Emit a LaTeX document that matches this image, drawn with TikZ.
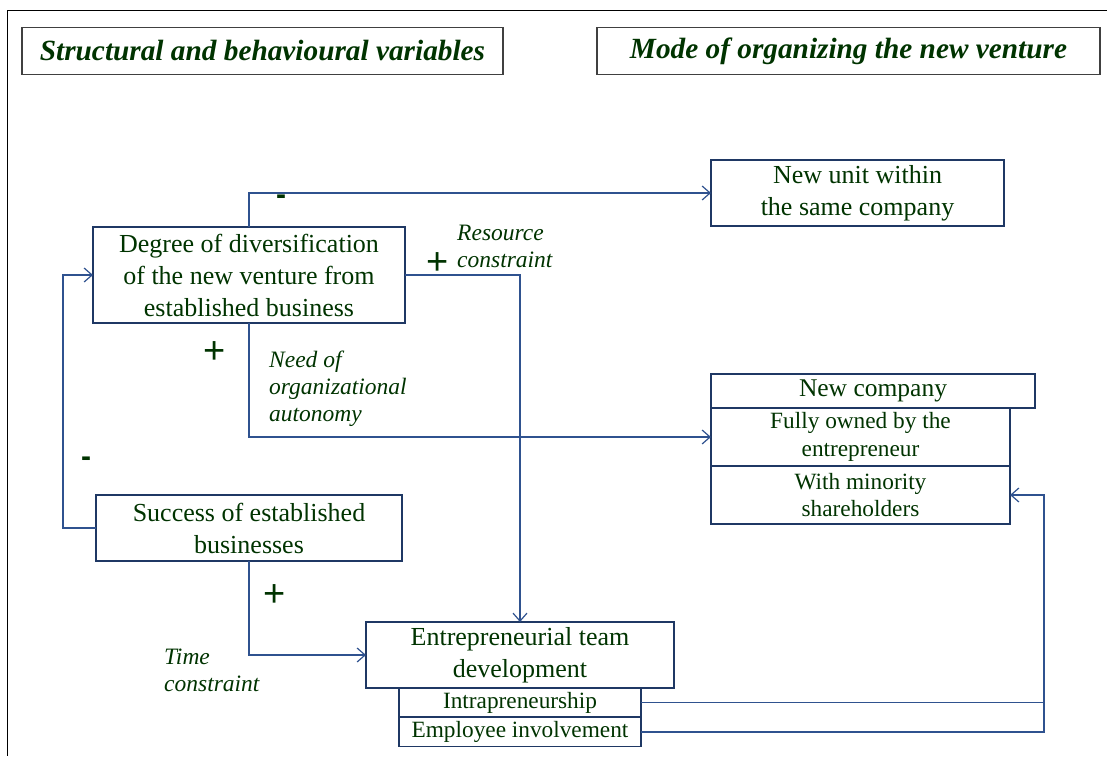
\documentclass[tikz,border=0pt]{standalone}
\usepackage{fontspec}
\setmainfont{Liberation Serif}
\setsansfont{Liberation Sans}
\usetikzlibrary{arrows.meta}
\definecolor{txtgreen}{RGB}{0,51,0}
\definecolor{boxblue}{RGB}{31,56,100}
\definecolor{lineblue}{RGB}{47,82,143}

\begin{document}
\begin{tikzpicture}[x=1pt, y=-1pt, node distance=58pt,
	box/.style={draw=boxblue, line width=1.2pt, inner sep=0pt, outer sep=0pt, align=center, text=txtgreen, font=\fontsize{26}{32}\selectfont},
	sub/.style={box, font=\fontsize{23.3}{27.5}\selectfont},
	heading/.style={draw=black!75, line width=1.2pt, inner sep=0pt, text=txtgreen, minimum height=47pt, font=\fontsize{29.3}{34}\selectfont\bfseries\itshape},
	note/.style={text=txtgreen, align=left, inner sep=0pt, anchor=west, font=\fontsize{23.5}{27}\selectfont\itshape},
	sign/.style={text=txtgreen, inner sep=0pt, font=\fontsize{38}{38}\selectfont\sffamily},
	neg/.style={sign, font=\fontsize{30}{30}\selectfont\sffamily\bfseries},
	link/.style={draw=lineblue, line width=1.2pt, -{Straight Barb[length=8pt,width=14pt]}}]
	\useasboundingbox (0,0) rectangle (1107,756);
	\draw[line width=0.8pt] (1107,10) -- (7,10) -- (7,756);
	\node (vars) [heading, minimum width=481pt] at (262.5,51) {Structural and behavioural variables};
	\node (mode) [heading, minimum width=503pt] at (848.5,51) {Mode of organizing the new venture};
	\node (unit) [box, minimum width=293pt, minimum height=66pt] at (857.5,193) {New unit within\\the same company};
	\node (div) [box, minimum width=312pt, minimum height=96pt] at (249,275) {Degree of diversification\\of the new venture from\\established business};
	\node (succ) [box, minimum width=306pt, minimum height=66pt] at (249,528) {Success of established\\businesses};
	\node (team) [box, minimum width=308pt, minimum height=66pt] at (520,655) {Entrepreneurial team\\development};
	\node (intra) [sub, minimum width=242pt, minimum height=29pt, node distance=47.5pt, below of=team] {Intrapreneurship};
	\node (empl) [sub, minimum width=242pt, minimum height=29.5pt, node distance=29.5pt, below of=intra] {Employee involvement};
	\node (owned) [sub, minimum width=299pt, minimum height=58pt] at (860.5,437) {Fully owned by the\\entrepreneur};
	\node (minor) [sub, minimum width=299pt, minimum height=58pt, below of=owned] {With minority\\shareholders};
	\node (newco) [box, minimum width=324pt, minimum height=34pt, anchor=south west, font=\fontsize{25.5}{28}\selectfont] at (owned.north west) {New company};
	\node (res) [note] at (457,246) {Resource\\constraint};
	\node (plus1) [sign] at (438,264) {+};
	\node (minus1) [neg] at (281,200) {-};
	\node (plus2) [sign] at (215,353) {+};
	\node (need) [note] at (269,389) {Need of\\organizational\\autonomy};
	\node (minus2) [neg] at (86,462) {-};
	\node (plus3) [sign] at (275,596) {+};
	\node (time) [note] at (164,670) {Time\\constraint};
	\draw[link] (div.north) |- (unit.west);
	\draw[link] (div.east) -| (team.north);
	\draw[link] (div.south) |- (owned.west);
	\draw[link] (succ.west) -- ++(-33,0) |- (div.west);
	\draw[link] (succ.south) |- (team.west);
	\draw[link] (empl.east) -- ++(403,0) |- (minor.east);
	\draw[draw=lineblue, line width=1.2pt] (intra.east) -- ++(403,0);
\end{tikzpicture}
\end{document}
